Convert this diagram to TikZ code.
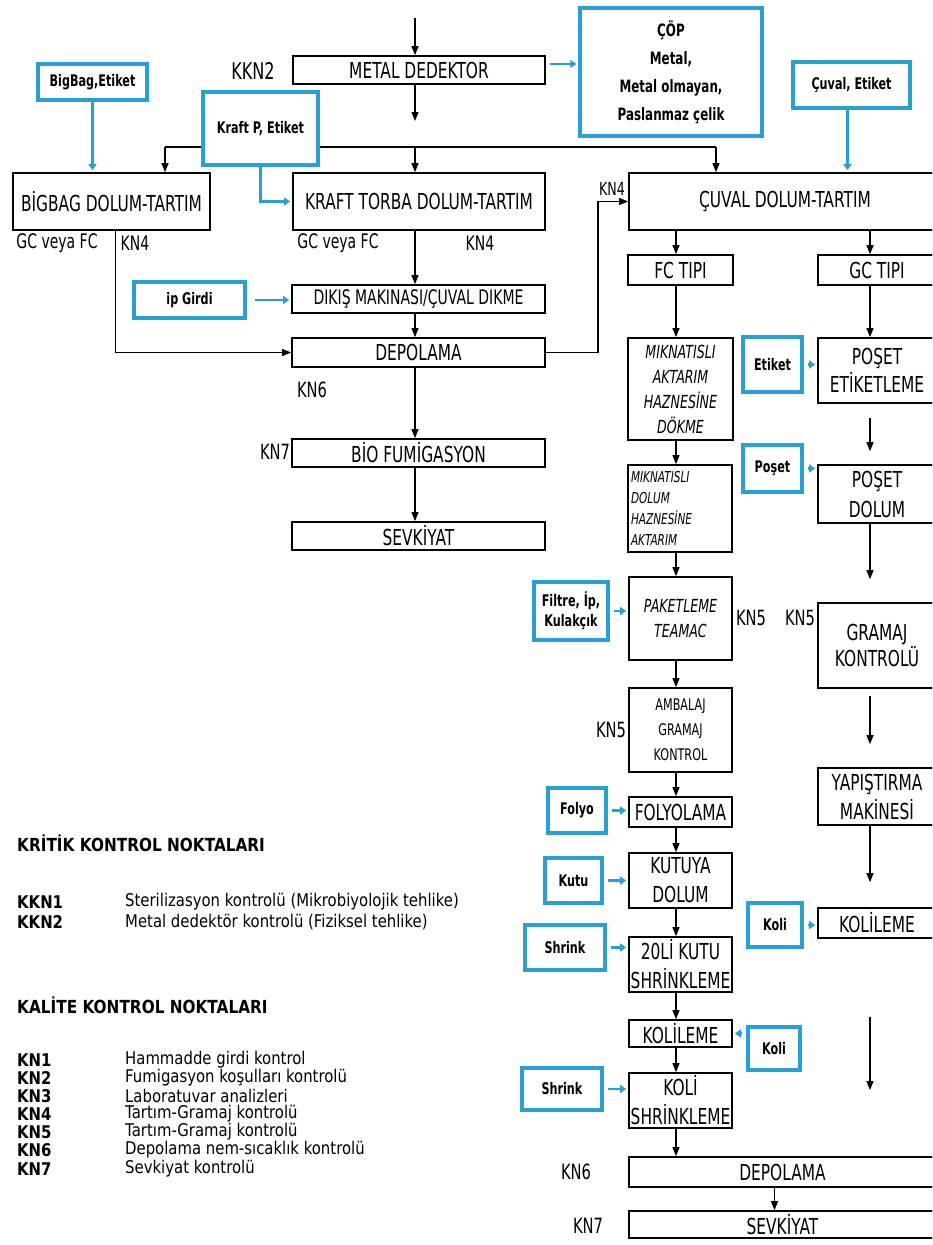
\documentclass[tikz,border=0pt]{standalone}
\usepackage{fontspec}
\setmainfont[FakeStretch=0.70]{DejaVu Sans}
\newfontfamily\legfont[FakeStretch=0.85]{DejaVu Sans}
\usetikzlibrary{arrows.meta,calc,backgrounds}
\definecolor{myblue}{RGB}{38,160,214}
\newcommand\fsz[2]{\fontsize{#1}{#2}\selectfont}
\newcommand\bxn[7]{\node[#6,minimum width={(#4-#2)*1pt},minimum height={(#5-#3)*1pt}] (#1) at ({(#2+#4)/2},{(#3+#5)/2}) {#7};}
\tikzset{
  box/.style={draw=black,line width=1.7pt,fill=white,inner sep=1pt,align=center,font=\fsz{22}{28}},
  ibox/.style={box,font=\itshape\fsz{18}{25}},
  bbox/.style={draw=myblue,line width=3.2pt,fill=white,inner sep=1pt,align=center,font=\bfseries\fsz{16}{20}},
  lab/.style={inner sep=0pt,font=\fsz{21}{24}},
  leg/.style={inner sep=0pt,anchor=west,font=\legfont\fsz{17.5}{20}},
  legb/.style={leg,font=\legfont\bfseries\fsz{17.5}{20}},
  arr/.style={draw=black,line width=1.1pt,-{Triangle[length=9pt,width=7pt]}},
  barr/.style={draw=myblue,line width=2.4pt,-{Triangle[length=6pt,width=8pt]},shorten <=4pt,shorten >=2pt},
}
\begin{document}
\begin{tikzpicture}[x=1pt,y=-1pt]
\useasboundingbox (0,0) rectangle (932,1245);
\clip (0,0) rectangle (932,1245);
% ---------- boxes ----------
\bxn{metal}{293}{56}{545}{84}{box}{METAL DEDEKTOR}
\bxn{cop}{580}{8}{762}{136}{bbox,font=\bfseries\fsz{17}{28}}{ÇÖP\\Metal,\\Metal olmayan,\\Paslanmaz çelik}
\bxn{bigbagEt}{38}{64}{147}{100}{bbox}{BigBag,Etiket}
\bxn{kraftEt}{203}{92}{318}{165}{bbox}{Kraft P, Etiket}
\bxn{cuvalEt}{793}{62}{910}{108}{bbox}{Çuval, Etiket}
\bxn{bigbag}{13}{173}{210}{230}{box}{BİGBAG DOLUM-TARTIM}
\bxn{kraft}{293}{173}{545}{230}{box}{KRAFT TORBA DOLUM-TARTIM}
\bxn{cuval}{629}{173}{941}{230}{box}{ÇUVAL DOLUM-TARTIM}
\bxn{ipGirdi}{134}{282}{245}{318}{bbox}{ip Girdi}
\bxn{dikis}{292}{285}{545}{313}{box,font=\fsz{20}{24}}{DIKIŞ MAKINASI/ÇUVAL DIKME}
\bxn{depo1}{292}{338}{545}{367}{box}{DEPOLAMA}
\bxn{bio}{292}{439}{545}{467}{box}{BİO FUMİGASYON}
\bxn{sevk1}{292}{522}{545}{550}{box}{SEVKİYAT}
\bxn{fc}{628}{255}{733}{285}{box}{FC TIPI}
\bxn{gc}{818}{255}{936}{285}{box}{GC TIPI}
\bxn{mik1}{628}{338}{733}{440}{ibox}{MIKNATISLI\\AKTARIM\\HAZNESİNE\\DÖKME}
\bxn{etiket}{743}{337}{802}{392}{bbox}{Etiket}
\bxn{posetEt}{818}{338}{936}{403}{box}{POŞET\\ETİKETLEME}
\bxn{poset}{743}{445}{802}{492}{bbox}{Poşet}
\bxn{posetDol}{818}{465}{936}{523}{box,font=\fsz{22}{30}}{POŞET\\DOLUM}
\bxn{mik2}{628}{465}{732}{552}{ibox,font=\itshape\fsz{15}{21},text width=98pt,align=left}{MIKNATISLI\\DOLUM\\HAZNESİNE\\AKTARIM}
\bxn{paket}{629}{577}{732}{660}{ibox}{PAKETLEME\\TEAMAC}
\bxn{filtre}{534}{582}{608}{640}{bbox}{Filtre, İp,\\Kulakçık}
\bxn{gramaj}{818}{603}{936}{688}{box,font=\fsz{22}{26}}{GRAMAJ\\KONTROLÜ}
\bxn{ambalaj}{629}{688}{732}{772}{box,font=\fsz{16}{25}}{AMBALAJ\\GRAMAJ\\KONTROL}
\bxn{folyo}{548}{788}{606}{833}{bbox}{Folyo}
\bxn{folyolama}{629}{797}{732}{827}{box}{FOLYOLAMA}
\bxn{yapis}{818}{768}{936}{825}{box,font=\fsz{22}{29}}{YAPIŞTIRMA\\MAKİNESİ}
\bxn{kutu}{545}{858}{602}{903}{bbox}{Kutu}
\bxn{kutuya}{629}{853}{732}{908}{box,font=\fsz{22}{29}}{KUTUYA\\DOLUM}
\bxn{koliR}{748}{903}{802}{947}{bbox}{Koli}
\bxn{kolilemeR}{818}{908}{936}{938}{box}{KOLİLEME}
\bxn{shrink1}{525}{925}{605}{970}{bbox}{Shrink}
\bxn{yirmi}{629}{937}{732}{992}{box,font=\fsz{22}{29}}{20Lİ KUTU\\SHRİNKLEME}
\bxn{kolilemeL}{629}{1020}{732}{1047}{box}{KOLİLEME}
\bxn{koliL}{748}{1027}{800}{1070}{bbox}{Koli}
\bxn{koliShr}{629}{1073}{732}{1128}{box,font=\fsz{22}{29}}{KOLİ\\SHRİNKLEME}
\bxn{shrink2}{522}{1068}{602}{1110}{bbox}{Shrink}
\bxn{depo2}{629}{1157}{936}{1187}{box}{DEPOLAMA}
\bxn{sevk2}{629}{1211}{936}{1238}{box}{SEVKİYAT}
% ---------- side labels ----------
\node[lab,font=\fsz{23}{26}] (lKKN2) at (253,71) {KKN2};
\node[lab,font=\fsz{20}{22}] (lgc1) at (57,243) {GC veya FC};
\node[lab,font=\fsz{20}{22}] (lkn4a) at (135,243) {KN4};
\node[lab,font=\fsz{20}{22}] (lgc2) at (338,243) {GC veya FC};
\node[lab,font=\fsz{20}{22}] (lkn4b) at (480,243) {KN4};
\node[lab,font=\fsz{18}{20}] (lkn4c) at (612,189) {KN4};
\node[lab] (lkn6a) at (312,390) {KN6};
\node[lab] (lkn7a) at (275,452) {KN7};
\node[lab] (lkn5a) at (751,618) {KN5};
\node[lab] (lkn5b) at (800,618) {KN5};
\node[lab] (lkn5c) at (611,730) {KN5};
\node[lab] (lkn6b) at (576,1172) {KN6};
\node[lab] (lkn7b) at (588,1226) {KN7};
% ---------- legend ----------
\node[legb,font=\legfont\bfseries\fsz{18}{20}] (h1) at (17,843) {KRİTİK KONTROL NOKTALARI};
\node[legb] (k1) at (17,902) {KKN1};
\node[leg] (k1t) at (125,902) {Sterilizasyon kontrolü (Mikrobiyolojik tehlike)};
\node[legb] (k2) at (17,922) {KKN2};
\node[leg] (k2t) at (125,922) {Metal dedektör kontrolü (Fiziksel tehlike)};
\node[legb,font=\legfont\bfseries\fsz{18}{20}] (h2) at (17,1005) {KALİTE KONTROL NOKTALARI};
\node[legb] (n1) at (17,1060) {KN1};
\node[leg] (n1t) at (125,1060) {Hammadde girdi kontrol};
\node[legb] (n2) at (17,1078) {KN2};
\node[leg] (n2t) at (125,1078) {Fumigasyon koşulları kontrolü};
\node[legb] (n3) at (17,1096) {KN3};
\node[leg] (n3t) at (125,1096) {Laboratuvar analizleri};
\node[legb] (n4) at (17,1114) {KN4};
\node[leg] (n4t) at (125,1114) {Tartım-Gramaj kontrolü};
\node[legb] (n5) at (17,1132) {KN5};
\node[leg] (n5t) at (125,1132) {Tartım-Gramaj kontrolü};
\node[legb] (n6) at (17,1150) {KN6};
\node[leg] (n6t) at (125,1150) {Depolama nem-sıcaklık kontrolü};
\node[legb] (n7) at (17,1169) {KN7};
\node[leg] (n7t) at (125,1169) {Sevkiyat kontrolü};
% ---------- coordinates ----------
\coordinate (mx) at (415,0);
\coordinate (fx) at (676,0);
\coordinate (gx) at (870,0);
\coordinate (topin) at (415,18);
\coordinate (j1) at (415,121);
\coordinate (bl) at (165,147);
\coordinate (br) at (716,147);
\coordinate (rc) at (598,0);
\coordinate (fa1) at (870,1017);
\coordinate (fa2) at (870,1090);
% ---------- black connectors ----------
\begin{scope}[on background layer]
\draw[line width=1.1pt] (bl) -- (br);
\end{scope}
\draw[arr] (topin) -- (mx |- metal.north);
\draw[arr] (mx |- metal.south) -- (j1);
\draw[arr] (bl) -- (bl |- bigbag.north);
\draw[arr] (br) -- (br |- cuval.north);
\draw[arr] (mx |- bl) -- (mx |- kraft.north);
\draw[arr] (mx |- kraft.south) -- (mx |- dikis.north);
\draw[arr] (mx |- dikis.south) -- (mx |- depo1.north);
\draw[arr] ($(bigbag.south)+(4,0)$) |- (depo1.west);
\draw[arr] (depo1.east) -- (depo1.east -| rc) -- (rc |- cuval.west) -- (cuval.west);
\draw[arr] (mx |- depo1.south) -- (mx |- bio.north);
\draw[arr] (mx |- bio.south) -- (mx |- sevk1.north);
% left column
\draw[arr] (fx |- cuval.south) -- (fx |- fc.north);
\draw[arr] (fx |- fc.south) -- (fx |- mik1.north);
\draw[arr] (fx |- mik1.south) -- (fx |- mik2.north);
\draw[arr] (fx |- mik2.south) -- (fx |- paket.north);
\draw[arr] (fx |- paket.south) -- (fx |- ambalaj.north);
\draw[arr] (fx |- ambalaj.south) -- (fx |- folyolama.north);
\draw[arr] (fx |- folyolama.south) -- (fx |- kutuya.north);
\draw[arr] (fx |- kutuya.south) -- (fx |- yirmi.north);
\draw[arr] (fx |- yirmi.south) -- (fx |- kolilemeL.north);
\draw[arr] (fx |- kolilemeL.south) -- (fx |- koliShr.north);
\draw[arr] (fx |- koliShr.south) -- (fx |- depo2.north);
\draw[arr] ($(depo2.south)+(-8,0)$) -- ($(sevk2.north)+(-8,0)$);
% right column
\draw[arr] (gx |- cuval.south) -- (gx |- gc.north);
\draw[arr] (gx |- gc.south) -- (gx |- posetEt.north);
\draw[arr,shorten <=14pt,shorten >=13pt] (gx |- posetEt.south) -- (gx |- posetDol.north);
\draw[arr,shorten >=23pt] (gx |- posetDol.south) -- (gx |- gramaj.north);
\draw[arr,shorten <=7pt,shorten >=23pt] (gx |- gramaj.south) -- (gx |- yapis.north);
\draw[arr,shorten >=25pt] (gx |- yapis.south) -- (gx |- kolilemeR.north);
\draw[arr] (fa1) -- (fa2);
% ---------- blue connectors ----------
\draw[barr] ($(metal.east)+(0,-6)$) -- ($(metal.east -| cop.west)+(0,-6)$);
\draw[barr,shorten <=0pt] (bigbagEt.south) -- (bigbagEt.south |- bigbag.north);
\draw[barr,shorten <=0pt] (kraftEt.south) |- (kraft.west);
\draw[barr,shorten <=0pt] ($(cuvalEt.south)+(-4,0)$) -- ($(cuvalEt.south |- cuval.north)+(-4,0)$);
\draw[barr,shorten <=8pt] (ipGirdi.east) -- (ipGirdi.east -| dikis.west);
\draw[barr] (etiket.east) -- (etiket.east -| posetEt.west);
\draw[barr] (poset.east) -- (poset.east -| posetDol.west);
\draw[barr] (filtre.east) -- (filtre.east -| paket.west);
\draw[barr] (folyo.east) -- (folyo.east -| folyolama.west);
\draw[barr] (kutu.east) -- (kutu.east -| kutuya.west);
\draw[barr] (shrink1.east) -- (shrink1.east -| yirmi.west);
\draw[barr] (koliR.east) -- (koliR.east -| kolilemeR.west);
\draw[barr] (koliL.west |- kolilemeL.east) -- (kolilemeL.east);
\draw[barr] (shrink2.east) -- (shrink2.east -| koliShr.west);
\end{tikzpicture}
\end{document}
